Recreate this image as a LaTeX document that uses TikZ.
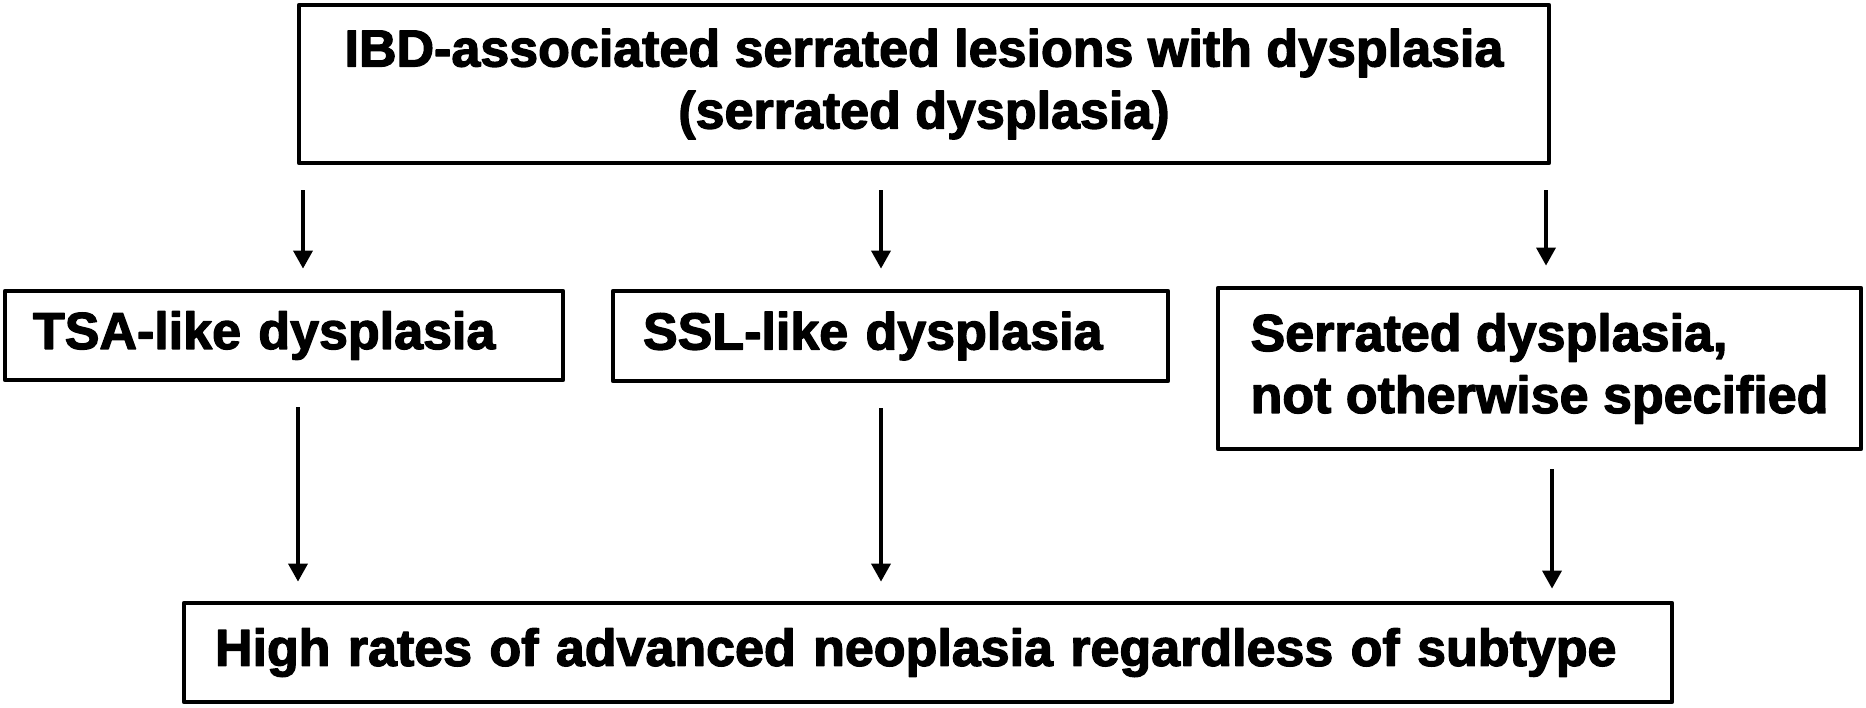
\documentclass[tikz,border=0pt]{standalone}
\usepackage{fontspec}
\setmainfont{Liberation Sans}[BoldFeatures={FakeBold=2.5}]
\usetikzlibrary{arrows.meta}
\begin{document}
\begin{tikzpicture}[x=0.5pt,y=-0.5pt,
  box/.style={draw, line width=2.4pt, line join=round, inner sep=0pt,
    font=\fontsize{26}{31}\selectfont\bfseries},
  arr/.style={line width=1.8pt, -{Triangle[length=9pt,width=9.5pt]},
    shorten <=12.5pt, shorten >=10pt}]
\useasboundingbox (0,0) rectangle (1866,707);
\node[box, minimum width=625pt, minimum height=79pt, align=center] (ibd) at (924,84)
  {IBD-associated serrated lesions with dysplasia\\(serrated dysplasia)};
\node[box, minimum width=279pt, minimum height=44.5pt, text width=251pt, align=left] (tsa) at (284,335.5)
  {TSA-like dysplasia};
\node[box, minimum width=277.5pt, minimum height=45pt, text width=247.5pt, align=left] (ssl) at (890.5,336)
  {SSL-like dysplasia};
\node[box, minimum width=321.5pt, minimum height=80.5pt, align=left] (nos) at (1539.5,368.5)
  {Serrated dysplasia,\\not otherwise specified};
\node[box, minimum width=744pt, minimum height=49.5pt, text width=713pt, align=left] (high) at (928,652.5)
  {High rates of advanced neoplasia regardless of subtype};
\coordinate (c1) at (303,0);
\coordinate (c2) at (881,0);
\coordinate (c3) at (1546,0);
\coordinate (d1) at (298,0);
\coordinate (d3) at (1552,0);
\draw[arr] (ibd.south -| c1) -- (tsa.north -| c1);
\draw[arr] (ibd.south -| c2) -- (ssl.north -| c2);
\draw[arr] (ibd.south -| c3) -- (nos.north -| c3);
\draw[arr, shorten >=9.5pt] (tsa.south -| d1) -- (high.north -| d1);
\draw[arr, shorten >=9.5pt] (ssl.south -| c2) -- (high.north -| c2);
\draw[arr, shorten <=9pt, shorten >=6pt] (nos.south -| d3) -- (high.north -| d3);
\end{tikzpicture}
\end{document}
